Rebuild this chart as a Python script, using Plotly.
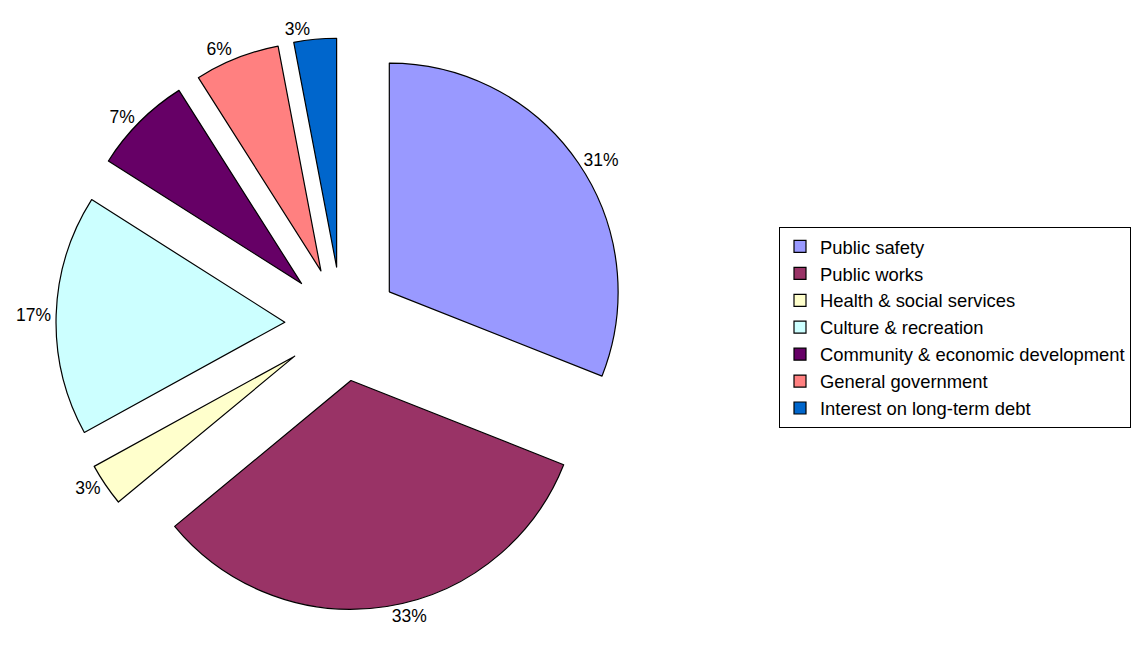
import plotly.graph_objects as go

categories = ["Public safety", "Public works", "Health & social services",
              "Culture & recreation", "Community & economic development",
              "General government", "Interest on long-term debt"]
shares = [31, 33, 3, 17, 7, 6, 3]
colors = ["#9999FF", "#993366", "#FFFFCC", "#CCFFFF", "#660066", "#FF8080", "#0066CC"]

W, H = 1140, 646
cx, cy, half = 334, 316, 286

fig = go.Figure(go.Pie(
    labels=categories,
    values=shares,
    sort=False,
    direction="clockwise",
    rotation=0,
    pull=[0.25] * len(categories),
    marker=dict(colors=colors, line=dict(color="black", width=1.2)),
    textinfo="percent",
    texttemplate="%{percent:.0%}",
    textposition="outside",
    textfont=dict(family="Arial, Liberation Sans", size=17.5, color="black"),
    domain=dict(x=[(cx - half) / W, (cx + half) / W],
                y=[(H - cy - half) / H, (H - cy + half) / H]),
    hoverinfo="label+percent",
))

fig.update_layout(
    width=W, height=H,
    margin=dict(l=0, r=0, t=0, b=0, autoexpand=False),
    paper_bgcolor="white",
    plot_bgcolor="white",
    font=dict(family="Arial, Liberation Sans", color="black"),
    showlegend=True,
    legend=dict(
        x=1123 / W, y=1 - 219 / H, xanchor="right", yanchor="top",
        bordercolor="black", borderwidth=1,
        font=dict(family="Arial, Liberation Sans", size=18.4, color="black"),
        itemwidth=30,
        traceorder="normal",
    ),
)

fig.write_html("out.html")
